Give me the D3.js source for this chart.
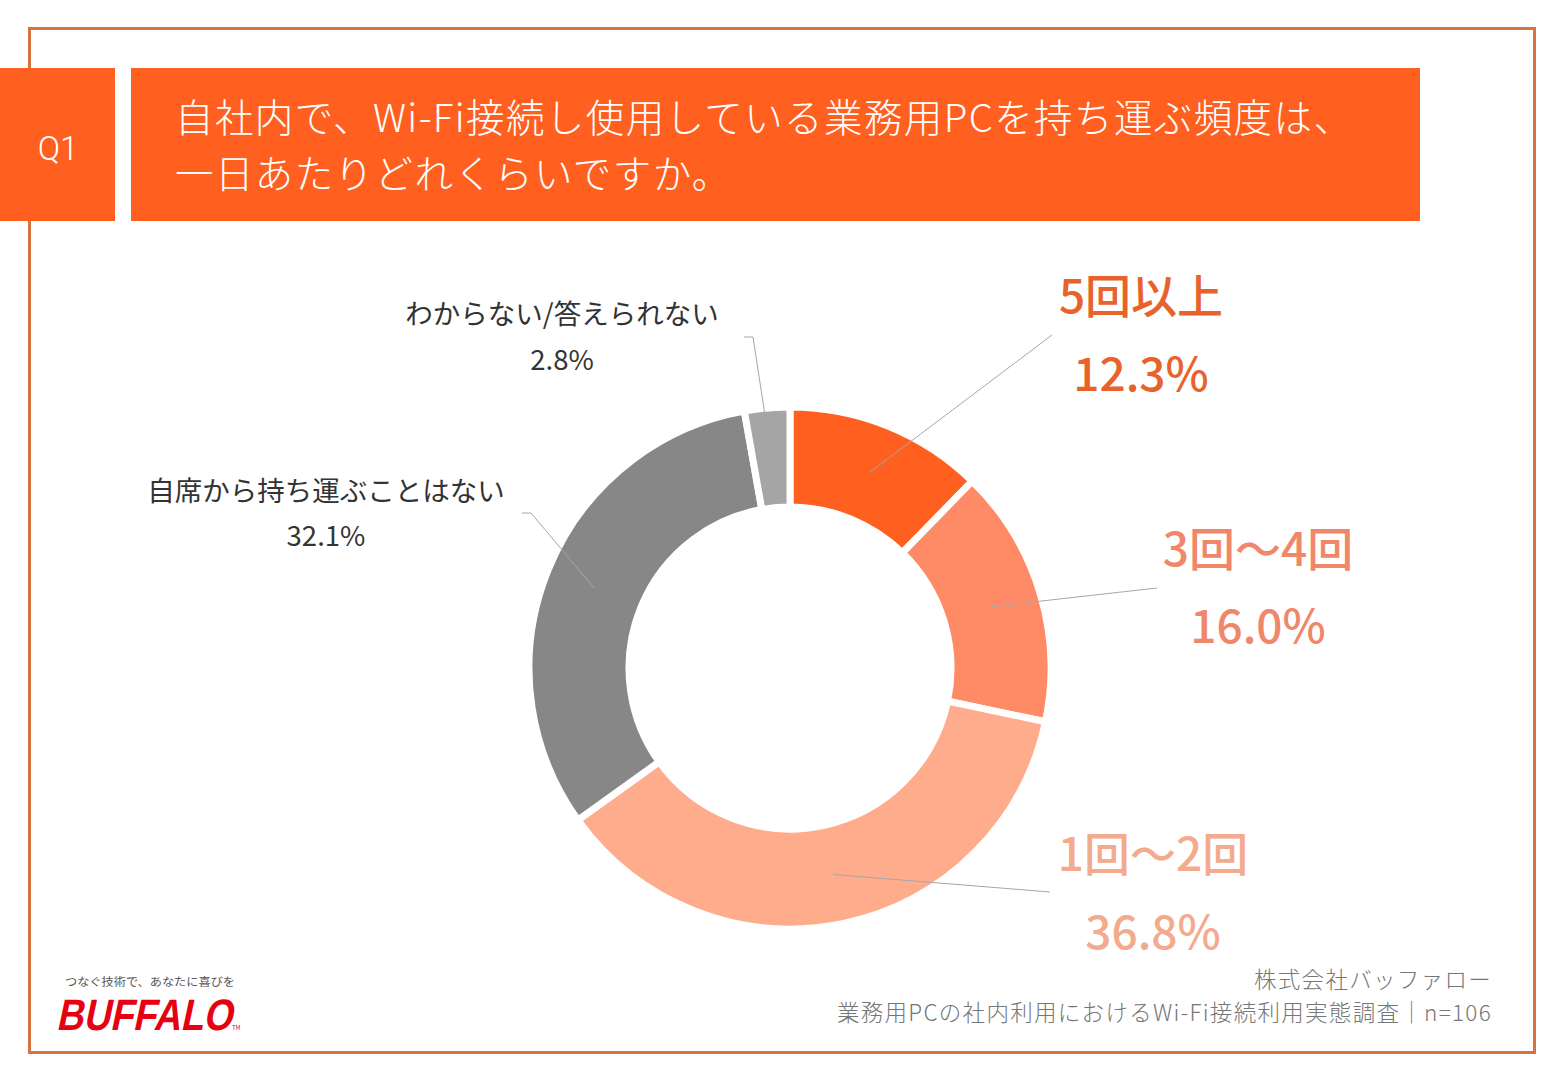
<!DOCTYPE html>
<html>
<head>
<meta charset="utf-8">
<script src="https://cdn.jsdelivr.net/npm/d3@7"></script>
<style>
  html, body { margin: 0; padding: 0; background: #fff; }
  svg { display: block; font-family: "Noto Sans CJK JP", "Noto Sans", sans-serif; }
</style>
</head>
<body>
<div class="canvas"></div>
<script>
/////////////////////////////////////////////////
// Data
/////////////////////////////////////////////////

const categories = ["5回以上", "3回～4回", "1回～2回", "自席から持ち運ぶことはない", "わからない/答えられない"];
const values = [12.3, 16.0, 36.8, 32.1, 2.8];

const titleLines = [
  "自社内で、Wi-Fi接続し使用している業務用PCを持ち運ぶ頻度は、",
  "一日あたりどれくらいですか。",
];
const questionNo = "Q1";
const sourceLines = [
  "株式会社バッファロー",
  "業務用PCの社内利用におけるWi-Fi接続利用実態調査｜n=106",
];

/////////////////////////////////////////////////
// Layout / style
/////////////////////////////////////////////////

const width = 1560;
const height = 1080;
const orange = "#FF5F1F";

const sliceColor = d3.scaleOrdinal(categories, ["#FF5F1F", "#FF8B66", "#FFAC8C", "#878787", "#A5A5A5"]);
const textColor = d3.scaleOrdinal(categories, ["#E8622C", "#F0876A", "#F4AA8C", "#333333", "#333333"]);

// label placement per category: centre x, two baselines, font size, leader end (and elbow)
const labelLayout = new Map([
  ["5回以上", { x: 1141, y1: 313, y2: 391, size: 46, weight: 500, end: [1052, 335] }],
  ["3回～4回", { x: 1258, y1: 566, y2: 643, size: 46, weight: 500, end: [1157, 588] }],
  ["1回～2回", { x: 1153, y1: 871, y2: 949, size: 46, weight: 500, end: [1050, 892] }],
  ["自席から持ち運ぶことはない", { x: 326, y1: 501, y2: 546, size: 27.5, weight: 400, elbow: [531, 513], end: [522, 513] }],
  ["わからない/答えられない", { x: 562, y1: 324, y2: 370, size: 27.5, weight: 400, elbow: [753, 337], end: [744, 337] }],
]);

const cx = 790;
const cy = 668;
const outerR = 261;
const innerR = 161;

/////////////////////////////////////////////////
// Build
/////////////////////////////////////////////////

const svg = d3.select(".canvas").append("svg")
  .attr("width", width)
  .attr("height", height);

// frame
svg.append("rect")
  .attr("x", 29.5).attr("y", 28.5)
  .attr("width", 1505).attr("height", 1024)
  .attr("fill", "none")
  .attr("stroke", "#D8733F")
  .attr("stroke-width", 3);

// header boxes
svg.append("rect").attr("x", 0).attr("y", 68).attr("width", 115).attr("height", 153).attr("fill", orange);
svg.append("rect").attr("x", 131).attr("y", 68).attr("width", 1289).attr("height", 153).attr("fill", orange);

svg.append("text")
  .attr("x", 58).attr("y", 160)
  .attr("text-anchor", "middle")
  .attr("fill", "#fff")
  .attr("font-family", "Roboto, 'Noto Sans', sans-serif")
  .attr("font-weight", 300)
  .attr("font-size", 33)
  .text(questionNo);

// title lines
svg.append("g").selectAll("text").data(titleLines).enter().append("text")
  .attr("x", 175)
  .attr("y", (d, i) => 132 + i * 56)
  .attr("fill", "#fff")
  .attr("font-size", 38.5)
  .attr("font-weight", 300)
  .attr("letter-spacing", 1.4)
  .text((d) => d);

// donut
const pie = d3.pie().sort(null).value((d) => d.value);
const arc = d3.arc().innerRadius(innerR).outerRadius(outerR);
const arcs = pie(categories.map((c, i) => ({ name: c, value: values[i] })));

const chart = svg.append("g").attr("transform", `translate(${cx}, ${cy})`);

chart.selectAll(".slice").data(arcs).enter().append("path")
  .attr("class", "slice")
  .attr("d", arc)
  .attr("fill", (d) => sliceColor(d.data.name))
  .attr("stroke", "#fff")
  .attr("stroke-width", 7)
  .attr("stroke-linejoin", "miter");

// leader lines
svg.append("g").selectAll("polyline").data(arcs).enter().append("polyline")
  .attr("fill", "none")
  .attr("stroke", "#A6A6A6")
  .attr("stroke-width", 1)
  .attr("points", (d) => {
    const c = arc.centroid(d);
    const l = labelLayout.get(d.data.name);
    const pts = [[cx + c[0], cy + c[1]]];
    if (l.elbow) pts.push(l.elbow);
    pts.push(l.end);
    return pts.map((p) => p.join(",")).join(" ");
  });

// labels
const labels = svg.append("g").selectAll("g").data(arcs).enter().append("g")
  .attr("fill", (d) => textColor(d.data.name))
  .attr("text-anchor", "middle");

labels.append("text")
  .attr("x", (d) => labelLayout.get(d.data.name).x)
  .attr("y", (d) => labelLayout.get(d.data.name).y1)
  .attr("font-size", (d) => labelLayout.get(d.data.name).size)
  .attr("font-weight", (d) => labelLayout.get(d.data.name).weight)
  .text((d) => d.data.name);

labels.append("text")
  .attr("x", (d) => labelLayout.get(d.data.name).x)
  .attr("y", (d) => labelLayout.get(d.data.name).y2)
  .attr("font-size", (d) => labelLayout.get(d.data.name).size)
  .attr("font-weight", (d) => labelLayout.get(d.data.name).weight)
  .text((d) => `${d3.format(".1f")(d.data.value)}%`);

// source
svg.append("g").selectAll("text").data(sourceLines).enter().append("text")
  .attr("x", 1492)
  .attr("y", (d, i) => 988 + i * 33)
  .attr("text-anchor", "end")
  .attr("fill", "#767676")
  .attr("font-size", 22.5)
  .attr("font-weight", 300)
  .attr("letter-spacing", 1.3)
  .text((d) => d);

// logo
const logo = svg.append("g");
logo.append("text")
  .attr("x", 65).attr("y", 986)
  .attr("fill", "#555")
  .attr("font-size", 11)
  .attr("textLength", 170)
  .attr("lengthAdjust", "spacingAndGlyphs")
  .text("つなぐ技術で、あなたに喜びを");
logo.append("text")
  .attr("transform", "translate(56, 1030) skewX(-12)")
  .attr("fill", "#E60012")
  .attr("font-family", "'Liberation Sans', sans-serif")
  .attr("font-weight", 700)
  .attr("font-size", 44)
  .attr("textLength", 176)
  .attr("lengthAdjust", "spacingAndGlyphs")
  .text("BUFFALO");
logo.append("text")
  .attr("x", 232).attr("y", 1030)
  .attr("fill", "#E60012")
  .attr("font-size", 6)
  .text("TM");
</script>
</body>
</html>
